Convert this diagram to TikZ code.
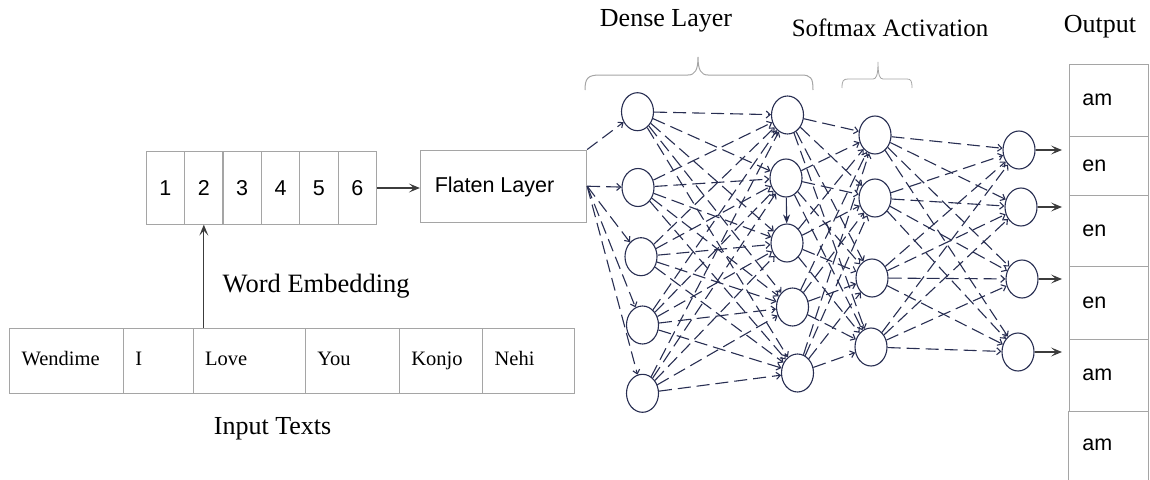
\documentclass[tikz,border=0pt]{standalone}
\usepackage{fontspec}
\setmainfont{Liberation Serif}
\setsansfont{Liberation Sans}
\usetikzlibrary{arrows.meta,shapes.geometric}
\definecolor{netc}{RGB}{40,46,82}
\definecolor{boxc}{RGB}{165,165,165}
\definecolor{arrc}{RGB}{60,60,60}
\begin{document}
\begin{tikzpicture}[x=1pt,y=-1pt,
  serif/.style={font=\fontsize{26}{30}\selectfont, text=black, inner sep=0pt},
  numcell/.style={draw=boxc, line width=1pt, minimum width=38.3pt, minimum height=72.3pt, inner sep=0pt, font=\sffamily\fontsize{21.5}{24}\selectfont},
  wcell/.style={draw=boxc, line width=1pt, minimum height=65pt, inner xsep=12pt, inner ysep=0pt, text height=14pt, text depth=4pt, align=left, font=\fontsize{20.5}{24}\selectfont},
  ocell/.style={draw=boxc, line width=1pt, inner xsep=13pt, inner ysep=0pt, text width=53pt, text height=15pt, text depth=4pt, align=left, font=\sffamily\fontsize{21.5}{24}\selectfont},
  neuron/.style={ellipse, draw=netc, line width=1.1pt, minimum width=32pt, minimum height=38pt, inner sep=0pt},
  conn/.style={draw=netc, line width=1.1pt, dash pattern=on 13pt off 6pt, -{Straight Barb[length=4pt,width=7pt]}},
  arr/.style={draw=arrc, line width=1.2pt, -{Stealth[length=11pt,width=9pt,inset=5pt]}},
  bracec/.style={draw=boxc, line width=1pt}
]
\useasboundingbox (0,0) rectangle (1150,479);

% number vector
\foreach \i in {1,...,6}{
  \node[numcell] (c\i) at ({146.3+38.35*(\i-0.5)},188) {\i};
}
% flatten
\node[draw=boxc, line width=1pt, minimum width=166.3pt, minimum height=72.3pt, inner sep=0pt] (flat) at (503.5,186.2) {};
\node[font=\sffamily\fontsize{21.5}{24}\selectfont, inner sep=0pt] (flattxt) at (494.5,187) {Flaten Layer};
\draw[arr] (c6.east) -- (c6.east -| flat.west);

% input words
\node[wcell, text width=89.8pt] (w1) at (66.5,360.8) {Wendime};
\node[wcell, text width=45.6pt] (w2) at (158.2,360.8) {I};
\node[wcell, text width=88.3pt] (w3) at (249.15,360.8) {Love};
\node[wcell, text width=70pt] (w4) at (352.3,360.8) {You};
\node[wcell, text width=59.3pt] (w5) at (440.95,360.8) {Konjo};
\node[wcell, text width=67.4pt] (w6) at (528.3,360.8) {Nehi};
\draw[arr] (w3.north -| c2) -- (c2.south);
\node[serif, anchor=west, font=\fontsize{26.5}{30}\selectfont] (we) at (222.5,286) {Word Embedding};
\node[serif] (it) at (272.6,429) {Input Texts};

% titles
\node[serif] (dl) at (666,21) {Dense Layer};
\node[serif, font=\fontsize{25}{30}\selectfont] (sa) at (890,28) {Softmax Activation};
\node[serif] (ot) at (1100,27) {Output};

% braces
\draw[bracec] (585,90) .. controls (585,78) and (588,75) .. (600,75) -- (688,75)
  .. controls (695,75) and (698,70) .. (698,57) .. controls (698,70) and (701,75) .. (708,75)
  -- (801,75) .. controls (811,75) and (813,78) .. (813,90);
\draw[bracec, line width=0.8pt] (842,88) .. controls (842,81) and (843,79) .. (848,79) -- (873,79)
  .. controls (876,79) and (878,76) .. (878,62) .. controls (878,76) and (880,79) .. (883,79)
  -- (907,79) .. controls (911,79) and (912,81) .. (912,88);

% neurons
\node[neuron] (a1) at (637.5,111.7) {};
\node[neuron] (a2) at (638,187.5) {};
\node[neuron] (a3) at (641,256.7) {};
\node[neuron] (a4) at (642.5,325) {};
\node[neuron] (a5) at (642.5,393.3) {};
\node[neuron] (b1) at (787.5,115) {};
\node[neuron] (b2) at (786,178) {};
\node[neuron] (b3) at (787,243) {};
\node[neuron] (b4) at (792.5,307) {};
\node[neuron] (b5) at (797.5,373) {};
\node[neuron] (s1) at (875,135) {};
\node[neuron] (s2) at (875,198) {};
\node[neuron] (s3) at (872,278) {};
\node[neuron] (s4) at (871,347) {};
\node[neuron] (o1) at (1019,150) {};
\node[neuron] (o2) at (1021,207) {};
\node[neuron] (o3) at (1022,279) {};
\node[neuron] (o4) at (1018,352) {};

% connections
\draw[conn] (flat.north east) -- (a1);
\foreach \j in {2,...,5}{ \draw[conn] (flat.east) -- (a\j); }
\foreach \i in {1,...,5}{ \foreach \j in {1,...,5}{ \draw[conn] (a\i) -- (b\j); } }
\foreach \i in {1,...,5}{ \foreach \j in {1,...,4}{ \draw[conn] (b\i) -- (s\j); } }
\foreach \i in {1,...,4}{ \foreach \j in {1,...,4}{ \draw[conn] (s\i) -- (o\j); } }
\draw[draw=netc, line width=1.1pt, -{Stealth[length=9pt,width=7pt]}] (b2) -- (b3);

% output cells
\node[ocell, minimum height=72pt] (q1) at (1108.8,100) {am};
\node[ocell, minimum height=59pt] (q2) at (1108.8,165.5) {en};
\node[ocell, minimum height=71.7pt] (q3) at (1108.8,230.85) {en};
\node[ocell, minimum height=72.3pt] (q4) at (1108.8,302.85) {en};
\node[ocell, minimum height=72pt] (q5) at (1108.8,375) {am};
\node[ocell, draw=none, minimum height=68pt] (q6) at (1108.8,445) {am};
\draw[boxc, line width=1pt] (q6.north west) -- (q6.south west);
\draw[boxc, line width=1pt] (q6.north east) -- (q6.south east);

% output arrows
\foreach \i/\y in {1/150,2/207,3/279,4/352}{
  \coordinate (t\i) at (1062,\y);
  \draw[arr] (o\i.east) -- (t\i);
}
\end{tikzpicture}
\end{document}
